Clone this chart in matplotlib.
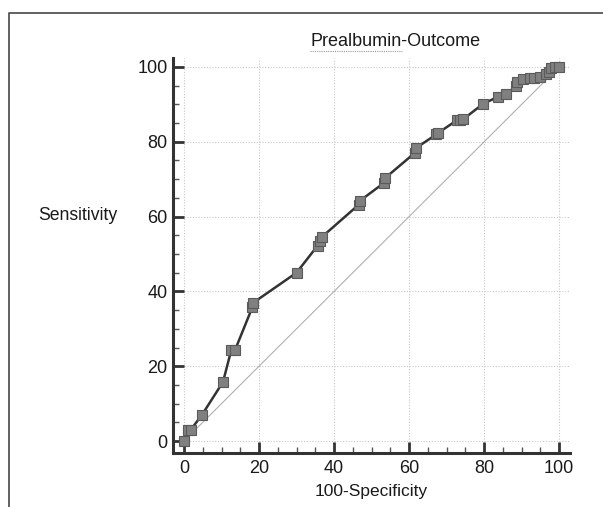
import matplotlib
matplotlib.use("Agg")
import matplotlib.pyplot as plt
from matplotlib.ticker import MultipleLocator
from matplotlib.lines import Line2D

plt.rcParams['font.family'] = ['Liberation Sans', 'DejaVu Sans']

# ROC points (100-Specificity, Sensitivity)
fpr = [0, 1.0, 1.8, 4.8, 10.4, 12.6, 13.6, 18.2, 18.5, 30.0, 35.6, 36.2, 36.7,
       46.6, 47.0, 53.3, 53.6, 61.5, 61.8, 67.3, 67.8, 72.8, 73.6, 74.4,
       79.8, 83.7, 85.9, 88.6, 88.9, 90.5, 92.2, 93.2, 95.0, 96.5, 97.4,
       97.8, 99.0, 100.0]
tpr = [0, 3.0, 3.0, 7.0, 15.8, 24.3, 24.3, 35.7, 37.0, 45.0, 52.2, 53.5, 54.5,
       63.2, 64.3, 69.0, 70.3, 77.0, 78.3, 82.0, 82.4, 85.8, 85.8, 86.0,
       90.2, 92.0, 92.7, 95.0, 96.0, 96.8, 97.0, 97.0, 97.3, 98.0, 98.6,
       99.8, 100.0, 100.0]
ref_line = [0, 100]

title = "Prealbumin-Outcome"
xlabel = "100-Specificity"
ylabel = "Sensitivity"
ticks = [0, 20, 40, 60, 80, 100]

fig = plt.figure(figsize=(6.03, 5.07), dpi=100)
ax = fig.add_axes([173/603, 54/507, (570-173)/603, (453-58)/507])

ax.plot(ref_line, ref_line, color='#b0b0b0', lw=0.8, zorder=2)
ax.plot(fpr, tpr, color='#333333', lw=1.8, zorder=3,
        marker='s', markersize=7.5, markerfacecolor='#808080',
        markeredgecolor='#5a5a5a', markeredgewidth=0.8)

ax.set_xlim(-2.93, 102.9)
ax.set_ylim(-3.2, 102.4)
ax.set_xticks(ticks)
ax.set_yticks(ticks)
ax.xaxis.set_minor_locator(MultipleLocator(5))
ax.yaxis.set_minor_locator(MultipleLocator(5))
ax.grid(True, which='major', color='#c8c8c8', linestyle=(0, (1, 1.5)), lw=0.8)
ax.set_axisbelow(True)

for s in ['top', 'right']:
    ax.spines[s].set_visible(False)
for s in ['left', 'bottom']:
    ax.spines[s].set_color('#333333')
    ax.spines[s].set_linewidth(2.2)

ax.tick_params(which='major', direction='in', length=8, width=2, color='#333333',
               labelsize=13, pad=4, labelcolor='#1a1a1a')
ax.tick_params(which='minor', direction='in', length=4, width=1, color='#555555')
ax.tick_params(axis='x', pad=5)

ax.set_xlabel(xlabel, fontsize=12.5, color='#1a1a1a', labelpad=5)
fig.text(78/603, 1 - 215/507, ylabel, fontsize=12.7, color='#1a1a1a',
         ha='center', va='center')
fig.text(396/603, 1 - 41/507, title, fontsize=13, color='#1a1a1a',
         ha='center', va='center')
# spell-check style dotted underline under "Prealbumin"
fig.add_artist(Line2D([310/603, 402/603], [1 - 51/507, 1 - 51/507],
                      transform=fig.transFigure, color='#999999', lw=0.8,
                      linestyle=(0, (1, 1))))

# outer frame (left and top edges)
fig.add_artist(Line2D([8.5/603, 8.5/603, 1.0], [0, 1 - 13/507, 1 - 13/507],
                      transform=fig.transFigure, color='#555555', lw=1.3))

fig.savefig("out.png", dpi=100)
